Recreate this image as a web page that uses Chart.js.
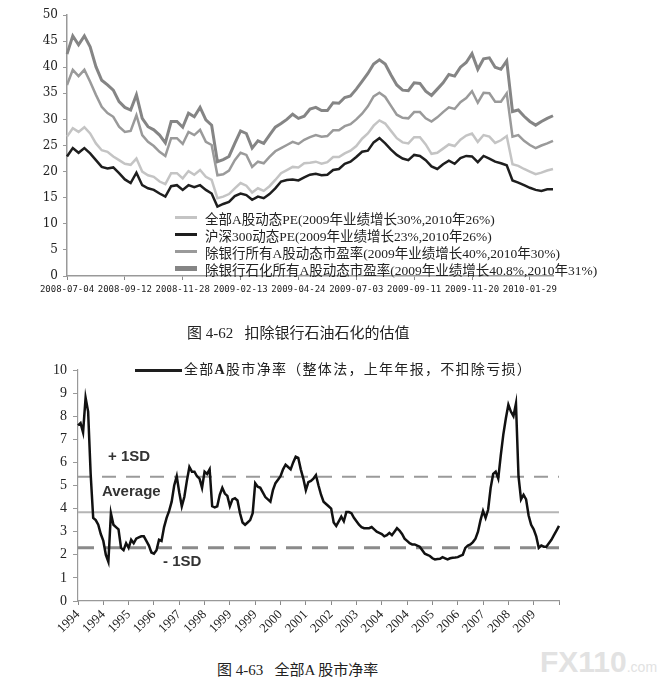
<!DOCTYPE html>
<html>
<head>
<meta charset="utf-8">
<script src="https://cdn.jsdelivr.net/npm/chart.js@4.4.1/dist/chart.umd.min.js"></script>
<style>
  html, body { margin: 0; padding: 0; background: #fff; overflow: hidden; }
  #wrap { position: relative; width: 657px; height: 678px; }
  canvas { position: absolute; left: 0; }
  .txt { position: absolute; white-space: pre; font-family: "Liberation Serif", "Noto Sans CJK SC", serif; color: #222; }
  .row { position: absolute; left: 0; height: 17px; display: flex; align-items: center; font-size: 13.5px; }
  .swatch { display: inline-block; width: 22px; margin-right: 8px; }
  .note { position: absolute; font-family: "Liberation Sans", Arial, sans-serif; font-weight: bold; font-size: 15px; color: #333; line-height: 18px; white-space: pre; }
</style>
</head>
<body>
<div id="wrap">
  <canvas id="peChart" width="657" height="300" style="top:0"></canvas>
  <div class="txt" style="left:175px;top:209px;width:440px;height:70px">
    <div class="row" style="top:0"><span class="swatch" style="height:3px;background:#c4c4c4"></span>全部A股动态PE(2009年业绩增长30%,2010年26%)</div>
    <div class="row" style="top:17px"><span class="swatch" style="height:3px;background:#1e1e1e"></span>沪深300动态PE(2009年业绩增长23%,2010年26%)</div>
    <div class="row" style="top:34px"><span class="swatch" style="height:3px;background:#9a9a9a"></span>除银行所有A股动态市盈率(2009年业绩增长40%,2010年30%)</div>
    <div class="row" style="top:51px"><span class="swatch" style="height:5px;background:#858585"></span>除银行石化所有A股动态市盈率(2009年业绩增长40.8%,2010年31%)</div>
  </div>
  <div class="txt" style="left:187px;top:324px;font-size:15px;line-height:18px">图 4-62   扣除银行石油石化的估值</div>

  <canvas id="pbChart" width="657" height="295" style="top:345px"></canvas>
  <div style="position:absolute;left:135px;top:369px;width:47px;height:2.5px;background:#1e1e1e"></div>
  <div class="txt" style="left:184px;top:361px;font-size:14px;line-height:18px;letter-spacing:1.3px">全部<b>A</b>股市净率（整体法，上年年报，不扣除亏损）</div>
  <div class="note" style="left:108px;top:447px">+ 1SD</div>
  <div class="note" style="left:102px;top:482px">Average</div>
  <div class="note" style="left:163px;top:552px">- 1SD</div>
  <div class="txt" style="left:217px;top:661px;font-size:15px;line-height:18px">图 4-63   全部A 股市净率</div>

  <div style="position:absolute;left:540px;top:645px;font-family:'Liberation Sans',Arial,sans-serif;color:#e2e2e2;white-space:pre"><span style="font-size:30px;font-weight:bold">FX110</span><span style="font-size:14px">.com</span></div>
</div>

<script>
// ---- 图4-62 动态PE (weekly, 2008-07-04 起) ----
const peTickDates = ['2008-07-04', '2008-09-12', '2008-11-28', '2009-02-13', '2009-04-24',
                     '2009-07-03', '2009-09-11', '2009-11-20', '2010-01-29'];

const peAllA = [26.7, 28.3, 27.6, 28.5, 27.3, 25.4, 24.1, 23.8, 22.9, 22.2,
  21.5, 21.3, 22.5, 20.0, 19.3, 19.0, 18.1, 17.6, 19.7, 19.7,
  18.7, 20.1, 19.4, 20.3, 19.0, 18.4, 14.9, 15.2, 15.7, 16.8,
  17.8, 17.3, 16.0, 16.8, 16.3, 17.2, 18.4, 19.7, 20.3, 20.9,
  20.8, 21.6, 21.7, 21.9, 21.5, 21.8, 22.8, 22.8, 23.5, 24.0,
  24.9, 26.3, 27.3, 28.8, 29.8, 29.2, 27.8, 26.4, 25.6, 25.4,
  26.6, 26.6, 25.2, 23.4, 23.6, 24.4, 25.2, 24.9, 26.1, 26.9,
  27.3, 25.7, 27.0, 26.7, 25.5, 26.0, 26.8, 21.4, 21.1, 20.5,
  20.0, 19.5, 19.8, 20.2, 20.5];

const peHs300 = [22.9, 24.5, 23.6, 24.5, 23.5, 22.2, 20.9, 20.6, 20.8, 19.7,
  18.5, 17.8, 19.8, 17.4, 16.8, 16.5, 15.8, 15.2, 17.2, 17.4,
  16.5, 17.4, 17.0, 17.4, 16.5, 15.8, 13.3, 13.8, 14.2, 15.3,
  15.8, 15.5, 14.6, 15.2, 14.9, 15.7, 16.8, 18.1, 18.4, 18.5,
  18.3, 18.9, 19.4, 19.6, 19.3, 19.4, 20.3, 20.5, 21.5, 21.9,
  22.8, 23.8, 24.0, 25.6, 26.4, 25.4, 24.2, 23.2, 22.5, 22.2,
  23.2, 23.0, 22.2, 21.0, 20.5, 21.4, 22.1, 21.5, 22.6, 23.0,
  22.9, 21.8, 23.0, 22.5, 21.9, 21.6, 21.2, 18.3, 17.9, 17.4,
  16.9, 16.5, 16.3, 16.6, 16.6];

const peExBank = [36.6, 39.5, 38.3, 39.5, 37.2, 34.7, 32.4, 31.2, 30.5, 28.6,
  27.6, 27.8, 30.8, 27.0, 25.7, 24.9, 23.8, 23.0, 26.4, 26.4,
  25.3, 27.6, 27.0, 28.0, 25.7, 25.1, 19.3, 19.5, 20.2, 22.2,
  23.6, 23.2, 20.9, 21.9, 21.6, 22.8, 23.9, 24.5, 25.1, 25.7,
  25.3, 26.1, 26.6, 27.0, 26.7, 26.8, 27.9, 27.9, 28.7, 29.1,
  30.0, 31.1, 32.5, 34.4, 35.1, 34.3, 32.6, 30.9, 30.3, 30.2,
  31.4, 31.4, 30.2, 29.6, 30.4, 31.4, 32.3, 32.0, 33.3, 34.1,
  35.4, 33.2, 35.1, 35.0, 33.4, 33.4, 35.0, 26.7, 27.0, 25.9,
  25.1, 24.5, 25.0, 25.4, 25.9];

const peExBankPetro = [42.5, 46.0, 44.3, 46.0, 43.9, 40.1, 37.5, 36.6, 35.6, 33.4,
  32.3, 31.8, 34.7, 30.2, 28.6, 28.0, 27.0, 25.5, 29.6, 29.6,
  28.5, 31.2, 30.5, 32.3, 29.9, 28.9, 21.9, 22.3, 22.9, 25.4,
  27.8, 27.3, 24.5, 25.9, 25.4, 27.0, 28.5, 29.2, 30.0, 31.0,
  30.2, 30.6, 32.0, 32.3, 31.7, 31.7, 33.2, 33.1, 34.2, 34.5,
  35.8, 37.3, 38.8, 40.6, 41.4, 40.6, 38.5, 36.6, 35.6, 35.5,
  37.0, 36.9, 35.4, 34.6, 35.8, 37.0, 38.6, 38.3, 40.0, 40.9,
  42.6, 39.6, 41.6, 41.8, 40.0, 39.6, 41.2, 31.5, 31.8, 30.6,
  29.6, 28.9, 29.6, 30.2, 30.7];

// ---- 图4-63 全部A股市净率 (monthly, 1994-01 起) ----
const pbYearLabels = ['1994', '1994', '1995', '1996', '1997', '1998', '1999', '1999', '2000', '2001',
                      '2002', '2003', '2004', '2004', '2005', '2006', '2007', '2008', '2009'];

const pbAllA = [7.6, 7.7, 7.3, 8.8, 8.2, 5.5, 3.6, 3.5, 3.3, 2.9,
  2.6, 2.0, 1.7, 3.8, 3.3, 3.2, 3.1, 2.3, 2.2, 2.5,
  2.3, 2.65, 2.5, 2.7, 2.75, 2.8, 2.8, 2.6, 2.4, 2.1,
  2.05, 2.2, 2.65, 2.6, 3.2, 3.6, 3.9, 4.3, 5.0, 5.4,
  4.7, 4.1, 4.5, 5.2, 5.8, 5.6, 5.6, 5.4, 5.3, 4.9,
  5.6, 5.5, 5.7, 4.1, 4.05, 4.1, 4.6, 4.9, 4.65, 4.55,
  4.1, 4.4, 4.45, 4.35, 3.8, 3.4, 3.3, 3.4, 3.5, 3.8,
  5.1, 4.95, 4.9, 4.7, 4.5, 4.4, 4.3, 4.8, 5.1, 5.25,
  5.4, 5.7, 5.9, 5.8, 5.7, 6.0, 6.25, 6.2, 5.7, 5.3,
  4.8, 5.15, 5.2, 5.3, 5.45, 5.0, 4.6, 4.3, 4.2, 4.1,
  4.0, 3.4, 3.25, 3.45, 3.65, 3.45, 3.85, 3.85, 3.8, 3.6,
  3.45, 3.3, 3.2, 3.15, 3.15, 3.15, 3.2, 3.1, 3.0, 2.95,
  2.9, 2.8, 2.85, 2.95, 2.85, 3.0, 3.15, 3.05, 2.9, 2.7,
  2.6, 2.5, 2.45, 2.45, 2.4, 2.35, 2.2, 2.05, 2.0, 1.95,
  1.85, 1.8, 1.82, 1.83, 1.9, 1.85, 1.8, 1.85, 1.87, 1.88,
  1.9, 1.95, 2.0, 2.3, 2.4, 2.45, 2.55, 2.7, 3.0, 3.5,
  3.9, 3.6, 3.95, 4.9, 5.5, 5.6, 5.3, 6.3, 7.2, 7.9,
  8.5, 8.2, 8.0, 8.55, 5.4, 4.4, 4.6, 4.4, 3.7, 3.3,
  3.1, 2.8, 2.3, 2.4, 2.35, 2.35, 2.5, 2.65, 2.85, 3.05,
  3.25];

const pbPlus1SD = 5.38;
const pbAverage = 3.84;
const pbMinus1SD = 2.31;

// 每10个类别显示一个标签
const peLabels = peAllA.map((v, i) => (i % 10 === 0 && peTickDates[i / 10]) ? peTickDates[i / 10] : '');
const pbLabels = pbAllA.map((v, i) => (i % 10 === 0 && pbYearLabels[i / 10]) ? pbYearLabels[i / 10] : '');
const everyTenth = (ctx) => (ctx.index % 10 === 0 ? '#888' : 'rgba(0,0,0,0)');

const lineDs = (data, color, width) => ({
  data: data, borderColor: color, borderWidth: width, pointRadius: 0, tension: 0, fill: false
});

new Chart(document.getElementById('peChart'), {
  type: 'line',
  data: {
    labels: peLabels,
    datasets: [
      lineDs(peAllA, '#c4c4c4', 2.5),
      lineDs(peHs300, '#1e1e1e', 2.5),
      lineDs(peExBank, '#9a9a9a', 2.5),
      lineDs(peExBankPetro, '#858585', 3)
    ]
  },
  options: {
    responsive: false,
    animation: false,
    layout: { padding: { top: 15, right: 104, left: 0, bottom: 0 } },
    plugins: { legend: { display: false }, tooltip: { enabled: false } },
    scales: {
      x: {
        grid: { drawOnChartArea: false, tickLength: 4, color: everyTenth },
        border: { color: '#999', width: 1.5 },
        ticks: { autoSkip: false, maxRotation: 0, minRotation: 0, padding: 4, color: '#222',
                 font: { family: 'DejaVu Sans Mono', size: 9 } },
        afterFit: (s) => { s.height = 24; }
      },
      y: {
        min: 0, max: 50,
        grid: { drawOnChartArea: false, tickLength: 4, color: '#999' },
        border: { color: '#999', width: 1.5 },
        ticks: { stepSize: 5, padding: 5, color: '#222', font: { family: 'DejaVu Serif', size: 12 } },
        afterFit: (s) => { s.width = 67; }
      }
    }
  }
});

new Chart(document.getElementById('pbChart'), {
  type: 'line',
  data: {
    labels: pbLabels,
    datasets: [
      Object.assign(lineDs(pbAllA, '#111', 2.5), { order: 0 }),
      Object.assign(lineDs(pbAllA.map(() => pbPlus1SD), '#9a9a9a', 2), { borderDash: [14, 10], order: 1 }),
      Object.assign(lineDs(pbAllA.map(() => pbAverage), '#b5b5b5', 2), { order: 1 }),
      Object.assign(lineDs(pbAllA.map(() => pbMinus1SD), '#8a8a8a', 3), { borderDash: [16, 10], order: 1 })
    ]
  },
  options: {
    responsive: false,
    animation: false,
    layout: { padding: { top: 25, right: 98, left: 0, bottom: 0 } },
    plugins: { legend: { display: false }, tooltip: { enabled: false } },
    scales: {
      x: {
        grid: { drawOnChartArea: false, tickLength: 4, color: everyTenth },
        border: { color: '#999', width: 1.2 },
        ticks: { autoSkip: false, maxRotation: 45, minRotation: 45, padding: 2, color: '#222',
                 font: { family: 'Liberation Serif', size: 13 } },
        afterFit: (s) => { s.height = 39; }
      },
      y: {
        min: 0, max: 10,
        grid: { drawOnChartArea: false, tickLength: 5, color: '#999' },
        border: { color: '#999', width: 1.2 },
        ticks: { stepSize: 1, padding: 6, color: '#222', font: { family: 'Liberation Serif', size: 14 } },
        afterFit: (s) => { s.width = 78; }
      }
    }
  }
});
</script>
</body>
</html>
